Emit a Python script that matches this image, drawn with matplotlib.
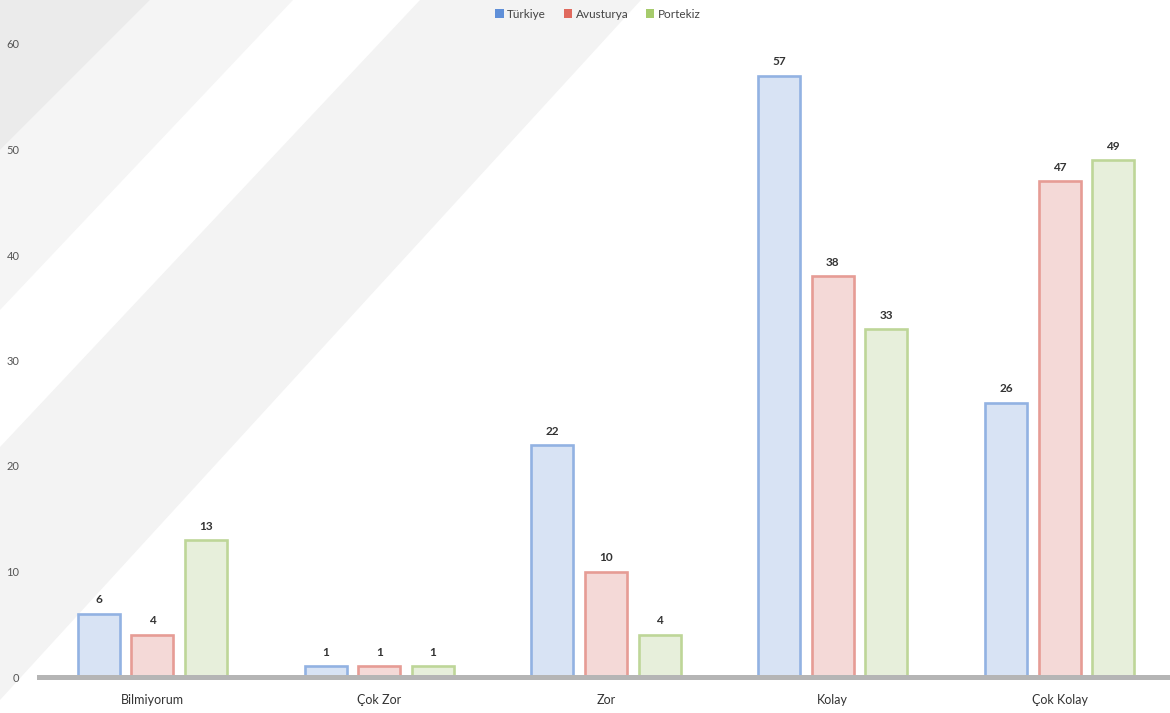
import matplotlib.pyplot as plt
import numpy as np
from matplotlib.patches import Polygon


# =====================================
# DATA
# =====================================

categories = [
    "Bilmiyorum",
    "Çok Zor",
    "Zor",
    "Kolay",
    "Çok Kolay"
]

series_names = [
    "Türkiye",
    "Avusturya",
    "Portekiz"
]

turkiye = [6, 1, 22, 57, 26]
avusturya = [4, 1, 10, 38, 47]
portekiz = [13, 1, 4, 33, 49]

y_ticks = [0, 10, 20, 30, 40, 50, 60]


# =====================================
# STYLE
# =====================================

FILL_COLORS = ["#d8e3f4", "#f4d9d7", "#e7efdb"]
EDGE_COLORS = ["#92b2e2", "#e69c95", "#bed698"]
LEGEND_COLORS = ["#5f8fd8", "#e0695d", "#a6cb6c"]

W, H = 1170, 713

plt.rcParams["font.family"] = ["Lato", "DejaVu Sans"]


def _px(x, y):
    """Pixel position (from top-left) to figure fraction."""
    return (x / W, 1 - y / H)


def _draw_background(fig):
    """Diagonal light-gray bands in the upper-left corner."""

    bands = [
        # outer faint band
        ([(420, 0), (641, 0), (0, 700), (0, 447)], "#f3f3f3"),
        # light band
        ([(150, 0), (293, 0), (0, 310), (0, 150)], "#f5f5f5"),
        # darker corner
        ([(0, 0), (150, 0), (0, 150)], "#ebebeb"),
    ]

    for pts, color in bands:
        fig.patches.append(
            Polygon(
                [_px(x, y) for x, y in pts],
                closed=True,
                transform=fig.transFigure,
                facecolor=color,
                edgecolor="none",
                zorder=-1
            )
        )


fig = plt.figure(
    figsize=(W / 100, H / 100),
    dpi=100
)

_draw_background(fig)

ax = fig.add_axes(
    [39 / W, 36 / H, 1134 / W, 633 / H]
)
ax.set_facecolor("none")

x = np.arange(len(categories))
offset = 0.236
bar_width = 0.185

all_series = [turkiye, avusturya, portekiz]

# =====================================
# BARS
# =====================================

for i, values in enumerate(all_series):

    pos = x + (i - 1) * offset

    ax.bar(
        pos,
        values,
        width=bar_width,
        color=FILL_COLORS[i],
        edgecolor=EDGE_COLORS[i],
        linewidth=1.9,
        zorder=2,
        label=series_names[i]
    )

    for px_, v in zip(pos, values):
        ax.annotate(
            f"{v}",
            (px_, v),
            xytext=(0, 6),
            textcoords="offset points",
            ha="center",
            va="bottom",
            fontsize=8.5,
            fontweight="bold",
            color="#333333"
        )

# =====================================
# AXES
# =====================================

ax.set_xlim(-0.5, 4.5)
ax.set_ylim(0, 60)

ax.set_xticks(x)
ax.set_xticklabels(categories, fontsize=9, color="#333333")
ax.set_yticks(y_ticks)
ax.set_yticklabels([str(t) for t in y_ticks], fontsize=8, color="#555555")

ax.tick_params(axis="x", length=0, pad=12)
ax.tick_params(axis="y", length=0, pad=14)

for side in ["top", "right", "left"]:
    ax.spines[side].set_visible(False)

ax.spines["bottom"].set_color("#b5b5b5")
ax.spines["bottom"].set_linewidth(3.6)
ax.spines["bottom"].set_zorder(3)

# =====================================
# LEGEND
# =====================================

handles = [
    plt.Rectangle((0, 0), 1, 1, facecolor=c, edgecolor="none")
    for c in LEGEND_COLORS
]

fig.legend(
    handles,
    series_names,
    loc="center",
    bbox_to_anchor=_px(598, 14),
    ncol=3,
    frameon=False,
    fontsize=8.5,
    handlelength=0.7,
    handleheight=0.7,
    handletextpad=0.3,
    columnspacing=1.5,
    labelcolor="#444444"
)

fig.savefig("out.png", dpi=100)
plt.close(fig)
